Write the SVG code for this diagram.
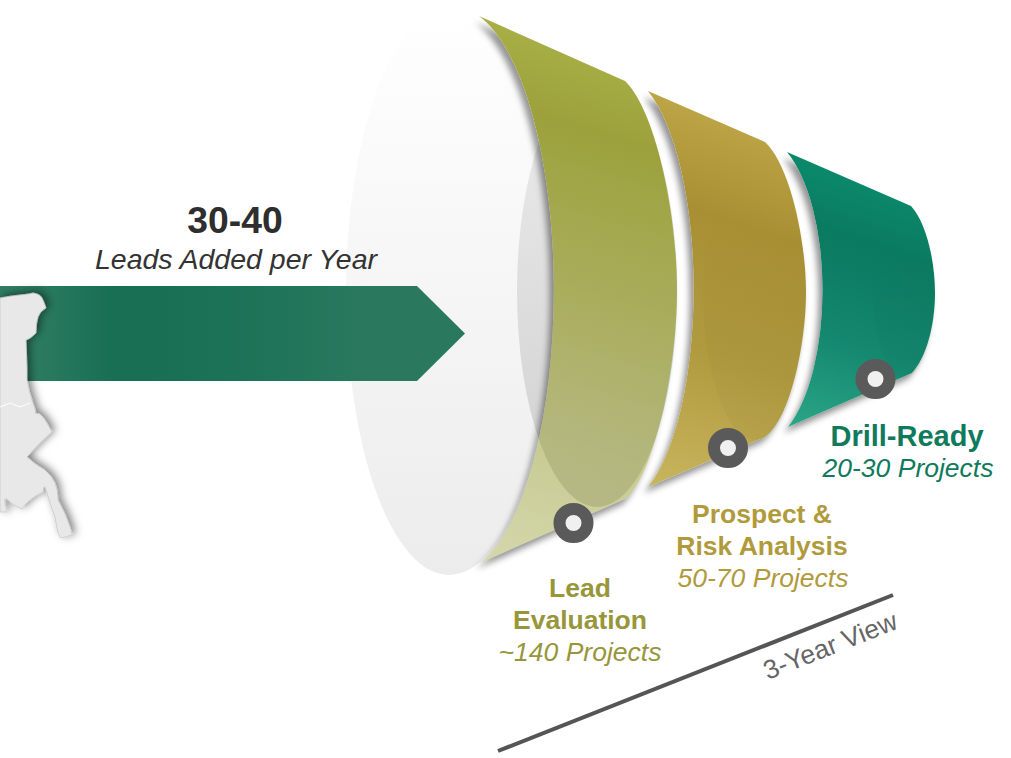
<svg xmlns="http://www.w3.org/2000/svg" width="1011" height="758" viewBox="0 0 1011 758">
<style>
text{font-family:"Liberation Sans",Arial,sans-serif;text-anchor:middle}
.b{font-weight:bold;font-size:26.500px}
.i{font-style:italic;font-size:26.500px}
.ol{fill:#97963a}.go{fill:#b09a3c}.te{fill:#0f7a5c}
.ring{fill:#f0f0f0;stroke:#5a5a5a;stroke-width:12}
.sh{fill:#000;fill-opacity:.42;filter:url(#blur)}
</style>
<defs>
<linearGradient id="gEll" x1="0" y1="0" x2="0" y2="1"><stop offset="0" stop-color="#fff"/><stop offset="1" stop-color="#ececec"/></linearGradient>
<linearGradient id="gHole" x1="0" y1="0" x2="0" y2="1"><stop offset="0.1" stop-color="#e8e8e8" stop-opacity="0"/><stop offset="0.15" stop-color="#e8e8e8"/><stop offset="1" stop-color="#d0d0d0"/></linearGradient>
<linearGradient id="gFade" x1="0" y1="0" x2="0" y2="1"><stop offset="0.25" stop-color="#000" stop-opacity="0"/><stop offset="0.6" stop-color="#000" stop-opacity=".02"/><stop offset="1" stop-color="#000" stop-opacity=".03"/></linearGradient>
<linearGradient id="gOl" gradientUnits="userSpaceOnUse" x1="640" y1="20" x2="480" y2="570">
<stop offset="0.08" stop-color="#a8ae45"/><stop offset="0.21" stop-color="#9ca13c"/><stop offset="0.49" stop-color="#9ca13c" stop-opacity=".8"/><stop offset="0.74" stop-color="#9ca13c" stop-opacity=".57"/><stop offset="0.99" stop-color="#9ca13c" stop-opacity=".42"/></linearGradient>
<linearGradient id="gGo" gradientUnits="userSpaceOnUse" x1="790" y1="90" x2="660" y2="490">
<stop offset="0.1" stop-color="#bda647"/><stop offset="0.34" stop-color="#a88f33"/><stop offset="0.65" stop-color="#b09a3f"/><stop offset="1" stop-color="#c9b55e"/></linearGradient>
<linearGradient id="gTe" gradientUnits="userSpaceOnUse" x1="880" y1="150" x2="790" y2="430">
<stop offset="0.1" stop-color="#0b8a6b"/><stop offset="0.32" stop-color="#0a7a60"/><stop offset="0.65" stop-color="#14876f"/><stop offset="1" stop-color="#2ba687"/></linearGradient>
<linearGradient id="gAr" gradientUnits="userSpaceOnUse" x1="0" y1="0" x2="465" y2="0">
<stop offset="0.05" stop-color="#2f7d63"/><stop offset="0.25" stop-color="#176e52"/><stop offset="0.5" stop-color="#1c7256"/><stop offset="0.8" stop-color="#2a795f"/><stop offset="1" stop-color="#2a795f"/></linearGradient>
<filter id="blur" x="-20%" y="-20%" width="140%" height="140%"><feGaussianBlur stdDeviation="3"/></filter>
<filter id="mapSh" x="-40%" y="-20%" width="180%" height="140%"><feDropShadow dx="3" dy="-2" stdDeviation="4" flood-color="#000" flood-opacity=".5"/></filter>
<path id="pOl" d="M479 16L625 81C655 110 677 210 677 290C677 370 655 470 627 498L480 563A100 283 0 0 0 479 16Z"/>
<path id="pGo" d="M648 91L765 142C790 165 806 240 806 292C806 345 790 420 765 437L648 487A76 216 0 0 0 648 91Z"/>
<path id="pTe" d="M787 152L911 206C926 222 935 260 935 293C935 326 926 358 912 373L788 427A65 155 0 0 0 787 152Z"/>
<clipPath id="xOl"><path clip-rule="evenodd" d="M0 0H1011V758H0ZM479 16L625 81C655 110 677 210 677 290C677 370 655 470 627 498L480 563A100 283 0 0 0 479 16Z"/></clipPath>
<clipPath id="xGo"><path clip-rule="evenodd" d="M0 0H1011V758H0ZM648 91L765 142C790 165 806 240 806 292C806 345 790 420 765 437L648 487A76 216 0 0 0 648 91Z"/></clipPath>
<clipPath id="xTe"><path clip-rule="evenodd" d="M0 0H1011V758H0ZM787 152L911 206C926 222 935 260 935 293C935 326 926 358 912 373L788 427A65 155 0 0 0 787 152Z"/></clipPath>
</defs>
<rect width="1011" height="758" fill="#fff"/>
<g id="funnel-mouth">
<ellipse cx="449" cy="292" rx="103" ry="283" fill="url(#gEll)"/>
<ellipse cx="597" cy="291" rx="80" ry="216" fill="url(#gHole)"/>
</g>
<g id="lead-evaluation">
<g clip-path="url(#xOl)"><use href="#pOl" class="sh" transform="translate(-4 6)"/></g>
<use href="#pOl" fill="url(#gOl)"/>
<circle class="ring" cx="573.500" cy="523" r="14"/>
<text class="b ol" x="580" y="597">Lead</text>
<text class="b ol" x="580" y="629">Evaluation</text>
<text class="i ol" x="580" y="661">~140 Projects</text>
</g>
<g id="prospect">
<g clip-path="url(#xGo)"><use href="#pGo" class="sh" transform="translate(-4 6)"/></g>
<use href="#pGo" fill="url(#gGo)"/>
<ellipse cx="755" cy="290" rx="52" ry="150" fill="url(#gFade)"/>
<circle class="ring" cx="728" cy="448" r="14"/>
<text class="b go" x="762" y="523">Prospect &amp;</text>
<text class="b go" x="762" y="555">Risk Analysis</text>
<text class="i go" x="763" y="587">50-70 Projects</text>
</g>
<g id="drill-ready">
<g clip-path="url(#xTe)"><use href="#pTe" class="sh" transform="translate(-4 6)"/></g>
<use href="#pTe" fill="url(#gTe)"/>
<ellipse cx="904" cy="290" rx="31" ry="88" fill="url(#gFade)"/>
<circle class="ring" cx="875.500" cy="379" r="14"/>
<text x="907" y="446" font-size="29" font-weight="bold" class="te">Drill-Ready</text>
<text class="i te" x="908" y="477">20-30 Projects</text>
</g>
<g id="leads-arrow">
<path d="M0 286H417L465 333.500L417 381H0Z" fill="url(#gAr)"/>
<text x="235" y="233" font-size="37.300" font-weight="bold" fill="#2e2e2e">30-40</text>
<text x="236" y="269" font-size="28.500" font-style="italic" fill="#333">Leads Added per Year</text>
</g>
<g id="map">
<path filter="url(#mapSh)" fill="#e8e8e8" stroke="#c8c8c8" stroke-width=".8" stroke-linejoin="round" d="M0 298Q10 296 20 295T33 293Q40 294 42 298T46 308Q40 311 38 317T36 333Q30 339 26 340L27 368 27 380Q29 392 33 403T35 413Q40 413 43 417T52 432Q46 437 40 443T27 457Q31 460 33 462T45 470Q52 476 55 483T58 500Q66 514 70 527T71 535Q66 537 62 538T55 517Q50 505 47 493T43 492Q36 495 30 500T22 509Q14 506 8 500T7 512L0 512Z"/>
<path d="M0 407L10 403 15 405 20 407 30 403" fill="none" stroke="#fff" stroke-width="1"/>
</g>
<g id="timeline">
<line x1="498" y1="751" x2="893" y2="595" stroke="#555" stroke-width="4"/>
<text x="833.500" y="654" font-size="26.500" fill="#666" transform="rotate(-21.500 833.500 654)">3-Year View</text>
</g>
</svg>
